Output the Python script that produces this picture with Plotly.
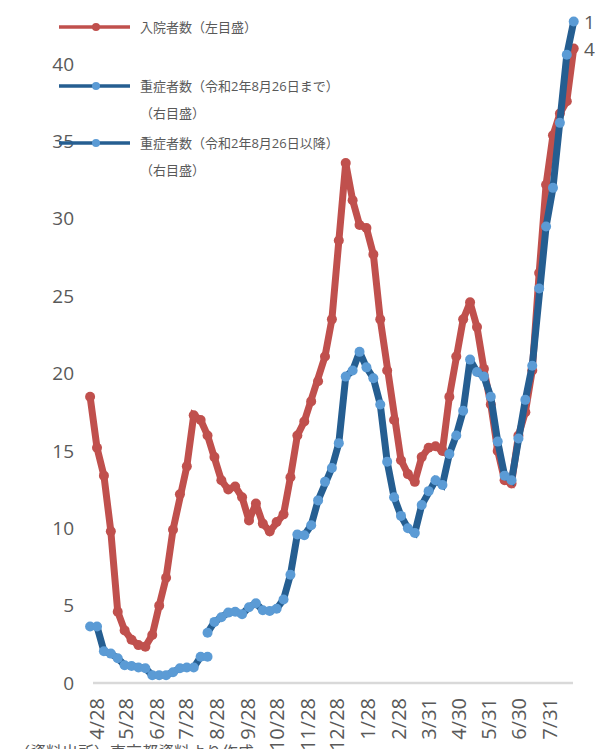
import pandas as pd
import plotly.graph_objects as go

# Weekly observation dates
dates = pd.date_range("2020-04-21", periods=71, freq="7D")

# 入院者数 (hundreds of people, left axis)
hospitalized = [
    18.5, 15.2, 13.4, 9.8, 4.6, 3.4, 2.8, 2.45, 2.35, 3.1,
    5.0, 6.8, 9.9, 12.2, 14.0, 17.3, 17.0, 16.0, 14.6, 13.1,
    12.5, 12.7, 12.0, 10.5, 11.6, 10.3, 9.8, 10.4, 10.9, 13.3,
    16.0, 16.9, 18.2, 19.5, 21.1, 23.5, 28.6, 33.6, 31.2, 29.6,
    29.4, 27.7, 23.5, 20.2, 17.0, 14.4, 13.5, 13.0, 14.6, 15.2,
    15.3, 15.0, 18.5, 21.1, 23.5, 24.6, 23.0, 20.3, 18.0, 15.0,
    13.1, 12.9, 16.0, 17.5, 20.2, 26.5, 32.2, 35.4, 36.8, 37.6,
    41.0,
]

# 重症者数 until 2020-08-26 (right axis)
severe_before = [
    14.6, 14.6, 8.2, 7.6, 6.4, 4.6, 4.4, 4.0, 3.8, 2.0,
    2.0, 2.0, 2.8, 3.8, 4.0, 4.0, 6.8, 6.8,
]

# 重症者数 from 2020-08-26 (right axis)
severe_after = [
    13.0, 15.8, 17.0, 18.2, 18.4, 17.8, 19.6, 20.6, 18.8, 18.6,
    19.2, 21.6, 28.0, 38.4, 38.2, 40.8, 47.2, 52.0, 55.6, 62.0,
    79.2, 80.8, 85.6, 81.6, 78.8, 72.0, 57.2, 48.0, 43.2, 40.0,
    38.8, 46.0, 49.6, 52.4, 51.2, 59.2, 64.0, 70.4, 83.6, 80.4,
    79.2, 74.0, 62.4, 53.6, 52.4, 63.2, 73.2, 82.0, 102.0, 118.0,
    128.0, 144.8, 162.4, 171.0,
]

dates_before = dates[:len(severe_before)]
dates_after = dates[len(severe_before) - 1:]

tick_dates = [
    "2020-04-28", "2020-05-28", "2020-06-28", "2020-07-28", "2020-08-28",
    "2020-09-28", "2020-10-28", "2020-11-28", "2020-12-28", "2021-01-28",
    "2021-02-28", "2021-03-31", "2021-04-30", "2021-05-31", "2021-06-30",
    "2021-07-31",
]
tick_labels = [
    "4/28", "5/28", "6/28", "7/28", "8/28", "9/28", "10/28", "11/28",
    "12/28", "1/28", "2/28", "3/31", "4/30", "5/31", "6/30", "7/31",
]

legend_names = [
    "入院者数（左目盛）",
    "重症者数（令和2年8月26日まで）",
    "重症者数（令和2年8月26日以降）",
]
legend_sub = "（右目盛）"
source_note = "（資料出所）東京都資料より作成"

RED = "#C0504D"
BLUE_LINE = "#255E91"
BLUE_MARK = "#5B9BD5"
GREY_TEXT = "#595959"
AXIS_GREY = "#D9D9D9"

W, H = 595, 749
ML, MR, MT, MB = 85, 15, 0, 66
PLOT_W = W - ML - MR
PLOT_H = H - MT - MB
Y_TOP = 44.14
RIGHT_SCALE = 4

fig = go.Figure()

fig.add_trace(go.Scatter(
    x=dates, y=hospitalized, mode="lines+markers", name=legend_names[0],
    line=dict(color=RED, width=7), marker=dict(color=RED, size=10),
    cliponaxis=False, showlegend=False,
))
fig.add_trace(go.Scatter(
    x=dates_before, y=severe_before, mode="lines+markers", name=legend_names[1],
    line=dict(color=BLUE_LINE, width=7), marker=dict(color=BLUE_MARK, size=10),
    yaxis="y2", cliponaxis=False, showlegend=False,
))
fig.add_trace(go.Scatter(
    x=dates_after, y=severe_after, mode="lines+markers", name=legend_names[2],
    line=dict(color=BLUE_LINE, width=7), marker=dict(color=BLUE_MARK, size=10),
    yaxis="y2", cliponaxis=False, showlegend=False,
))


def px_x(p):
    return (p - ML) / PLOT_W


def px_y(p):
    return (H - MB - p) / PLOT_H


shapes = []
annotations = []

# Category axis baseline
shapes.append(dict(type="line", xref="paper", yref="paper", layer="below",
                   x0=px_x(93), x1=px_x(573), y0=0, y1=0,
                   line=dict(color=AXIS_GREY, width=2.5)))

# Legend block drawn at the top-left
legend_rows = [
    (27, RED, RED, legend_names[0], None),
    (86, BLUE_LINE, BLUE_MARK, legend_names[1], 113),
    (143, BLUE_LINE, BLUE_MARK, legend_names[2], 170),
]
for y, lc, mc, name, sub_y in legend_rows:
    shapes.append(dict(type="line", xref="paper", yref="paper",
                       x0=px_x(59), x1=px_x(130), y0=px_y(y), y1=px_y(y),
                       line=dict(color=lc, width=3.5)))
    shapes.append(dict(type="circle", xref="paper", yref="paper",
                       x0=px_x(92), x1=px_x(100), y0=px_y(y + 4), y1=px_y(y - 4),
                       fillcolor=mc, line=dict(width=0)))
    annotations.append(dict(xref="paper", yref="paper", x=px_x(138), y=px_y(y),
                            xanchor="left", yanchor="middle", showarrow=False,
                            text=name, font=dict(size=13, color=GREY_TEXT)))
    if sub_y is not None:
        annotations.append(dict(xref="paper", yref="paper", x=px_x(138), y=px_y(sub_y),
                                xanchor="left", yanchor="middle", showarrow=False,
                                text=legend_sub, font=dict(size=13, color=GREY_TEXT)))

# Value labels on the final points
annotations.append(dict(x=dates[-1], y=hospitalized[-1], xref="x", yref="y",
                        text=f"{hospitalized[-1]:.0f}", showarrow=False,
                        xanchor="left", yanchor="middle", xshift=8,
                        font=dict(size=19, color=GREY_TEXT)))
annotations.append(dict(x=dates_after[-1], y=severe_after[-1], xref="x", yref="y2",
                        text=f"{severe_after[-1]:.0f}", showarrow=False,
                        xanchor="left", yanchor="middle", xshift=8,
                        font=dict(size=19, color=GREY_TEXT)))

# Source note below the axis
annotations.append(dict(xref="paper", yref="paper", x=px_x(12), y=px_y(739),
                        xanchor="left", yanchor="top", showarrow=False,
                        text=source_note,
                        font=dict(size=16, color=GREY_TEXT)))

fig.update_layout(
    width=W, height=H,
    margin=dict(l=ML, r=MR, t=MT, b=MB, autoexpand=False),
    paper_bgcolor="white", plot_bgcolor="white",
    font=dict(family="Open Sans, Noto Sans CJK JP, sans-serif", color=GREY_TEXT),
    showlegend=False,
    shapes=shapes,
    annotations=annotations,
    xaxis=dict(
        type="date", automargin=False,
        range=["2020-04-15 20:00", "2021-08-30 09:00"],
        tickmode="array", tickvals=tick_dates, ticktext=tick_labels,
        tickangle=-90, tickfont=dict(size=20, color=GREY_TEXT),
        ticks="", ticklabelstandoff=10,
        showgrid=False, zeroline=False, showline=False,
    ),
    yaxis=dict(
        automargin=False,
        range=[0, Y_TOP], tickmode="array", tickvals=list(range(0, 41, 5)),
        tickfont=dict(size=19, color=GREY_TEXT), ticks="", ticklabelstandoff=10,
        showgrid=False, zeroline=False, showline=False,
    ),
    yaxis2=dict(
        automargin=False,
        range=[0, Y_TOP * RIGHT_SCALE], overlaying="y", side="right",
        showticklabels=False, showgrid=False, zeroline=False, showline=False,
    ),
)

fig.write_html("out.html")
